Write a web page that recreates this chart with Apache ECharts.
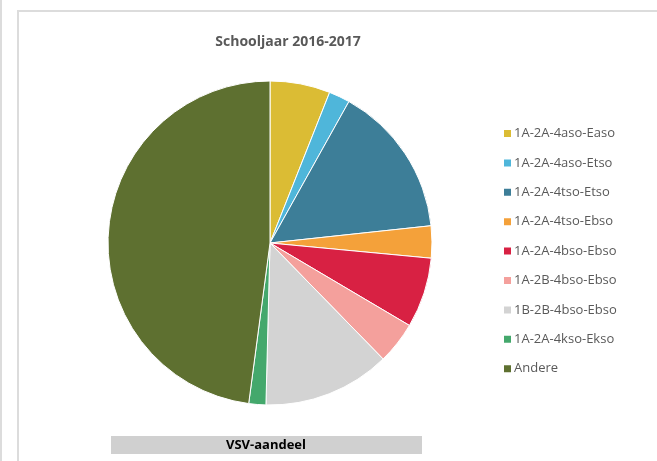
<!DOCTYPE html>
<html>
<head>
<meta charset="utf-8">
<script src="https://cdn.jsdelivr.net/npm/echarts@6/dist/echarts.min.js"></script>
<style>
  html, body { margin: 0; padding: 0; background: #ffffff; }
  #chart { width: 657px; height: 461px; }
</style>
</head>
<body>
<div id="chart"></div>
<script>
// Study trajectories, share of students (%)
const categories = [
  '1A-2A-4aso-Easo',
  '1A-2A-4aso-Etso',
  '1A-2A-4tso-Etso',
  '1A-2A-4tso-Ebso',
  '1A-2A-4bso-Ebso',
  '1A-2B-4bso-Ebso',
  '1B-2B-4bso-Ebso',
  '1A-2A-4kso-Ekso',
  'Andere'
];
const shares = [6.0, 2.1, 15.2, 3.2, 7.0, 4.2, 12.7, 1.7, 47.9];
const sliceColors = [
  '#dbbc34', '#4fb6da', '#3d7e98', '#f4a13a', '#d82143',
  '#f4a09c', '#d3d3d3', '#44a86c', '#5e7030'
];

const chart = echarts.init(document.getElementById('chart'), null, { renderer: 'canvas' });

chart.setOption({
  backgroundColor: '#ffffff',
  animation: false,
  title: {
    text: 'Schooljaar 2016-2017',
    left: 283,
    textAlign: 'center',
    top: 30,
    textStyle: {
      fontFamily: 'Open Sans',
      fontWeight: 'bold',
      fontSize: 14,
      color: '#595959'
    }
  },
  legend: {
    orient: 'vertical',
    left: 497,
    top: 122,
    itemWidth: 9,
    itemHeight: 9,
    itemGap: 16.4,
    icon: 'rect',
    textStyle: {
      fontFamily: 'Open Sans',
      fontSize: 13,
      color: '#595959',
      padding: [0, 0, 0, -3]
    },
    data: categories
  },
  graphic: [
    { type: 'rect', shape: { x: 0, y: 0, width: 2, height: 461 }, style: { fill: '#dcdcdc' } },
    { type: 'rect', shape: { x: 17, y: 10, width: 2, height: 451 }, style: { fill: '#dcdcdc' } },
    { type: 'rect', shape: { x: 17, y: 10, width: 640, height: 2 }, style: { fill: '#dcdcdc' } },
    { type: 'rect', shape: { x: 111, y: 436, width: 311, height: 18 }, style: { fill: '#d0d0d0' } },
    {
      type: 'text', x: 266, y: 445,
      style: {
        text: 'VSV-aandeel', fill: '#000000',
        font: 'bold 13px "Open Sans"',
        align: 'center', verticalAlign: 'middle'
      }
    }
  ],
  series: [{
    type: 'pie',
    center: [270, 243],
    radius: [0, 162],
    startAngle: 90,
    clockwise: true,
    label: { show: false },
    labelLine: { show: false },
    itemStyle: { borderColor: '#ffffff', borderWidth: 1 },
    emphasis: { disabled: true },
    data: categories.map((name, i) => ({
      name,
      value: shares[i],
      itemStyle: { color: sliceColors[i] }
    }))
  }]
});
</script>
</body>
</html>
